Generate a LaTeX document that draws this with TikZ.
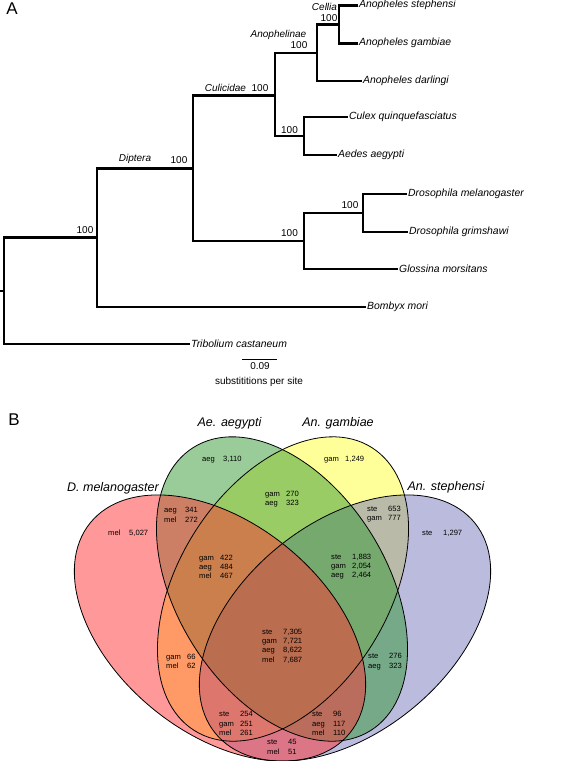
\documentclass[tikz,border=0pt]{standalone}
\usepackage{fontspec}
\setmainfont{Liberation Sans}
\usetikzlibrary{calc}
\definecolor{melfill}{RGB}{255,51,51}
\definecolor{aegfill}{RGB}{51,153,51}
\definecolor{gamfill}{RGB}{255,255,51}
\definecolor{stefill}{RGB}{119,119,187}
\newcommand{\cnt}[2]{\makebox[21pt][l]{#1}#2}

\begin{document}
\begin{tikzpicture}[x=1pt,y=-1pt]
    \tikzstyle{branch}=[line width=2.4pt]
    \tikzstyle{leaf}=[anchor=west,inner sep=1pt,font=\fontsize{10.4}{12}\selectfont\itshape]
    \tikzstyle{support}=[inner sep=0pt,font=\fontsize{10}{12}\selectfont]
    \tikzstyle{clade}=[inner sep=0pt,font=\fontsize{10}{12}\selectfont\itshape]
    \tikzstyle{setline}=[line width=0.8pt]
    \tikzstyle{tally}=[anchor=west,inner sep=0pt,align=left,font=\fontsize{7.6}{9.3}\selectfont]
    \tikzstyle{setlabel}=[inner sep=0pt,font=\fontsize{12.5}{15}\selectfont\itshape]
    \tikzstyle{panel}=[inner sep=0pt,font=\fontsize{17}{20}\selectfont]
    \useasboundingbox (0,0) rectangle (567,761);

    \node[panel] (pa) at (12,9) {A};
    \node[panel] (pb) at (14,420) {B};

    \coordinate (stub) at (0,290.7);
    \coordinate (root) at (4,290.7);
    \coordinate (ins) at (97,237.3);
    \coordinate (dip) at (193,168.4);
    \coordinate (cul) at (275,95.5);
    \coordinate (ano) at (317,53);
    \coordinate (cel) at (339,24.3);
    \coordinate (cuae) at (304,136);
    \coordinate (bra) at (304,241);
    \coordinate (dro) at (363,212.8);

    \node[leaf] (steph) at (358,5.3) {Anopheles stephensi};
    \node[leaf] (gamb) at (358,43.3) {Anopheles gambiae};
    \node[leaf] (darl) at (362,80.7) {Anopheles darlingi};
    \node[leaf] (culex) at (348,117) {Culex quinquefasciatus};
    \node[leaf] (aedes) at (337,155) {Aedes aegypti};
    \node[leaf] (dmel) at (407,194) {Drosophila melanogaster};
    \node[leaf] (dgrim) at (408,231.7) {Drosophila grimshawi};
    \node[leaf] (gloss) at (398,269) {Glossina morsitans};
    \node[leaf] (bomb) at (366,306.7) {Bombyx mori};
    \node[leaf] (trib) at (190,344) {Tribolium castaneum};

    \draw[branch] (stub) -- (root);
    \draw[branch] (root) |- (ins);
    \draw[branch] (root) |- (trib.west);
    \draw[branch] (ins) |- (dip);
    \draw[branch] (ins) |- (bomb.west);
    \draw[branch] (dip) |- (cul);
    \draw[branch] (dip) |- (bra);
    \draw[branch] (cul) |- (ano);
    \draw[branch] (cul) |- (cuae);
    \draw[branch] (ano) |- (cel);
    \draw[branch] (ano) |- (darl.west);
    \draw[branch] (cel) |- (steph.west);
    \draw[branch] (cel) |- (gamb.west);
    \draw[branch] (cuae) |- (culex.west);
    \draw[branch] (cuae) |- (aedes.west);
    \draw[branch] (bra) |- (dro);
    \draw[branch] (bra) |- (gloss.west);
    \draw[branch] (dro) |- (dmel.west);
    \draw[branch] (dro) |- (dgrim.west);

    \node[clade] (lcel) at (324.5,7) {Cellia};
    \node[support] (bcel) at (329,18) {100};
    \node[clade] (lano) at (278.5,35) {Anophelinae};
    \node[support] (bano) at (299,45) {100};
    \node[clade] (lcul) at (225.5,88) {Culicidae};
    \node[support] (bcul) at (260,88) {100};
    \node[clade] (ldip) at (135,159) {Diptera};
    \node[support] (bdip) at (179,160) {100};
    \node[support] (bcuae) at (289.5,130) {100};
    \node[support] (bbra) at (289.5,233) {100};
    \node[support] (bdro) at (350,205) {100};
    \node[support] (bins) at (85,230) {100};

    \coordinate (sbl) at (242,359.3);
    \coordinate (sbr) at (277,359.3);
    \draw[line width=1pt] (sbl) -- (sbr);
    \node[support] (sbv) at (260,366) {0.09};
    \node[support] (sbu) at (259,381.7) {substititions per site};

    \coordinate (cmel) at (220,628);
    \coordinate (cste) at (345,628);
    \coordinate (caeg) at (282,589);
    \coordinate (cgam) at (283,589);

    \fill[gamfill,fill opacity=0.5,rotate around={58:(cgam)}] (cgam) ellipse [x radius=167pt,y radius=105pt];
    \fill[stefill,fill opacity=0.5,rotate around={39:(cste)}] (cste) ellipse [x radius=167pt,y radius=105pt];
    \fill[aegfill,fill opacity=0.5,rotate around={-58:(caeg)}] (caeg) ellipse [x radius=167pt,y radius=105pt];
    \fill[melfill,fill opacity=0.5,rotate around={-39:(cmel)}] (cmel) ellipse [x radius=167pt,y radius=105pt];
    \draw[setline,rotate around={58:(cgam)}] (cgam) ellipse [x radius=167pt,y radius=105pt];
    \draw[setline,rotate around={39:(cste)}] (cste) ellipse [x radius=167pt,y radius=105pt];
    \draw[setline,rotate around={-58:(caeg)}] (caeg) ellipse [x radius=167pt,y radius=105pt];
    \draw[setline,rotate around={-39:(cmel)}] (cmel) ellipse [x radius=167pt,y radius=105pt];

    \node[setlabel] (nmel) at (113,488) {D. melanogaster};
    \node[setlabel] (naeg) at (229.5,423) {Ae. aegypti};
    \node[setlabel] (ngam) at (338,423) {An. gambiae};
    \node[setlabel] (nste) at (446,487) {An. stephensi};

    \node[tally] (taeg) at (202,460) {\cnt{aeg}{3,110}};
    \node[tally] (tgam) at (324,460) {\cnt{gam}{1,249}};
    \node[tally] (tgamaeg) at (265,499) {\cnt{gam}{270}\\\cnt{aeg}{323}};
    \node[tally] (taegmel) at (164,515) {\cnt{aeg}{341}\\\cnt{mel}{272}};
    \node[tally] (tmel) at (108,533) {\cnt{mel}{5,027}};
    \node[tally] (tstegam) at (367,514) {\cnt{ste}{653}\\\cnt{gam}{777}};
    \node[tally] (tste) at (422,533) {\cnt{ste}{1,297}};
    \node[tally] (tgamaegmel) at (199,567) {\cnt{gam}{422}\\\cnt{aeg}{484}\\\cnt{mel}{467}};
    \node[tally] (tstegamaeg) at (331,566.5) {\cnt{ste}{1,883}\\\cnt{gam}{2,054}\\\cnt{aeg}{2,464}};
    \node[tally] (tall) at (262,646) {\cnt{ste}{7,305}\\\cnt{gam}{7,721}\\\cnt{aeg}{8,622}\\\cnt{mel}{7,687}};
    \node[tally] (tgammel) at (166,661.5) {\cnt{gam}{66}\\\cnt{mel}{62}};
    \node[tally] (tsteaeg) at (368,661.5) {\cnt{ste}{276}\\\cnt{aeg}{323}};
    \node[tally] (tstegammel) at (219,723.5) {\cnt{ste}{254}\\\cnt{gam}{251}\\\cnt{mel}{261}};
    \node[tally] (tsteaegmel) at (312,723.5) {\cnt{ste}{96}\\\cnt{aeg}{117}\\\cnt{mel}{110}};
    \node[tally] (tstemel) at (267,747) {\cnt{ste}{45}\\\cnt{mel}{51}};
\end{tikzpicture}
\end{document}
